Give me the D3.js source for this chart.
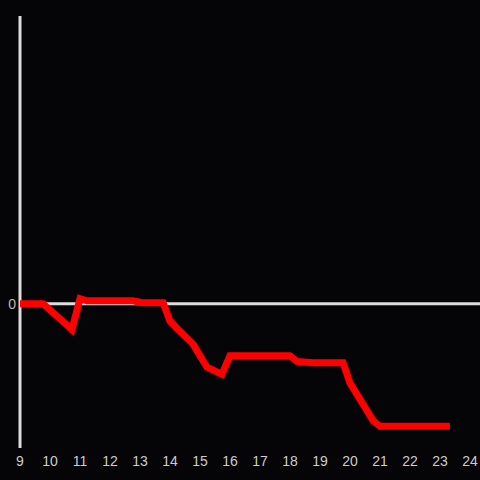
<!DOCTYPE html>
<html>
<head>
<meta charset="utf-8">
<script src="https://cdn.jsdelivr.net/npm/d3@7"></script>
<style>
  html, body { margin: 0; padding: 0; background: #050407; }
</style>
</head>
<body>
<div id="plot"></div>
<script>
// Hours along the bottom and the red series
const hours = [9, 9.77, 10.73, 11.0, 11.23, 12.77, 13.07, 13.77, 14.0, 14.23, 14.77, 15.23, 15.73, 16.0, 18.0, 18.23, 18.77, 19.77, 20.0, 20.77, 21.0, 23.33];
const values = [0, 0, -0.18, 0.035, 0.02, 0.02, 0.007, 0.007, -0.12, -0.17, -0.28, -0.44, -0.49, -0.36, -0.36, -0.40, -0.41, -0.41, -0.55, -0.81, -0.85, -0.85];
const tickHours = d3.range(9, 25);

const width = 480, height = 480;

const svg = d3.select("#plot")
    .append("svg")
    .attr("width", width)
    .attr("height", height)
    .style("background", "#050407");

// x: 9 -> 20px, 24 -> 470px
const x = d3.scaleLinear().domain([9, 24]).range([20, 470]);
const y = d3.scaleLinear().domain([-1, 2]).range([448, 15]);

// zero line
svg.append("line")
    .attr("x1", x(9)).attr("x2", width)
    .attr("y1", y(0)).attr("y2", y(0))
    .attr("stroke", "#dddddd")
    .attr("stroke-width", 3);

// vertical axis line
svg.append("line")
    .attr("x1", x(9)).attr("x2", x(9))
    .attr("y1", 16).attr("y2", 448)
    .attr("stroke", "#dddddd")
    .attr("stroke-width", 3);

// "0" label
svg.append("text")
    .attr("x", 16)
    .attr("y", y(0) + 5)
    .attr("text-anchor", "end")
    .attr("fill", "#bbbbbb")
    .style("font-family", "Liberation Sans, Arial, sans-serif")
    .style("font-size", "14px")
    .text("0");

// hour labels
svg.selectAll("text.hour")
    .data(tickHours)
    .enter()
    .append("text")
    .attr("class", "hour")
    .attr("x", d => x(d))
    .attr("y", 466)
    .attr("text-anchor", "middle")
    .attr("fill", "#cccccc")
    .style("font-family", "Liberation Sans, Arial, sans-serif")
    .style("font-size", "14px")
    .text(d => d);

// the red line
const line = d3.line()
    .x((d, i) => x(hours[i]))
    .y(d => y(d));

svg.append("path")
    .datum(values)
    .attr("d", line)
    .attr("fill", "none")
    .attr("stroke", "#ff0000")
    .attr("stroke-width", 7);
</script>
</body>
</html>
